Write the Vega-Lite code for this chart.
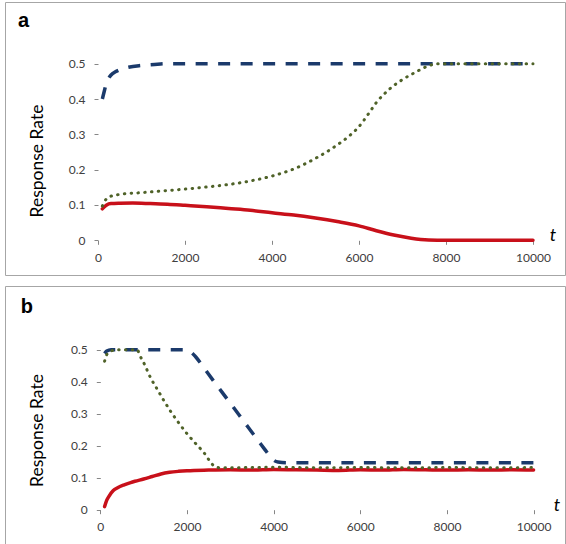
{
  "$schema": "https://vega.github.io/schema/vega-lite/v6.json",
  "background": "white",
  "padding": {"left": 4, "top": 1, "right": 1, "bottom": 1},
  "spacing": 9,
  "config": {
    "view": {"stroke": "#A6A6A6", "strokeWidth": 1},
    "axis": {"grid": false, "domain": false, "labelFont": "Lato", "labelFontSize": 12, "labelColor": "#404040", "tickColor": "#868686", "tickSize": 4, "tickWidth": 1, "title": null}
  },
  "datasets": {
    "labels": [
      {"panel": "a", "kind": "title", "text": "Response Rate", "x": -1379, "y": 0.2245},
      {"panel": "a", "kind": "t", "text": "t", "x": 10460, "y": -0.002},
      {"panel": "a", "kind": "tag", "text": "a", "x": -1713, "y": 0.604},
      {"panel": "b", "kind": "title", "text": "Response Rate", "x": -1438, "y": 0.2475},
      {"panel": "b", "kind": "t", "text": "t", "x": 10540, "y": -0.004},
      {"panel": "b", "kind": "tag", "text": "b", "x": -1692, "y": 0.615}
    ],
    "a": [
      {"t": 100, "rate": 0.40, "series": "blue"},
      {"t": 150, "rate": 0.425, "series": "blue"},
      {"t": 200, "rate": 0.448, "series": "blue"},
      {"t": 250, "rate": 0.46, "series": "blue"},
      {"t": 300, "rate": 0.468, "series": "blue"},
      {"t": 400, "rate": 0.477, "series": "blue"},
      {"t": 500, "rate": 0.483, "series": "blue"},
      {"t": 700, "rate": 0.49, "series": "blue"},
      {"t": 1000, "rate": 0.495, "series": "blue"},
      {"t": 1300, "rate": 0.498, "series": "blue"},
      {"t": 1600, "rate": 0.5, "series": "blue"},
      {"t": 10000, "rate": 0.5, "series": "blue"},
      {"t": 100, "rate": 0.097, "series": "green"},
      {"t": 150, "rate": 0.11, "series": "green"},
      {"t": 200, "rate": 0.118, "series": "green"},
      {"t": 300, "rate": 0.125, "series": "green"},
      {"t": 500, "rate": 0.13, "series": "green"},
      {"t": 1000, "rate": 0.135, "series": "green"},
      {"t": 1500, "rate": 0.14, "series": "green"},
      {"t": 2000, "rate": 0.145, "series": "green"},
      {"t": 2500, "rate": 0.151, "series": "green"},
      {"t": 3000, "rate": 0.158, "series": "green"},
      {"t": 3500, "rate": 0.168, "series": "green"},
      {"t": 4000, "rate": 0.182, "series": "green"},
      {"t": 4500, "rate": 0.202, "series": "green"},
      {"t": 5000, "rate": 0.232, "series": "green"},
      {"t": 5500, "rate": 0.27, "series": "green"},
      {"t": 5800, "rate": 0.298, "series": "green"},
      {"t": 6000, "rate": 0.322, "series": "green"},
      {"t": 6200, "rate": 0.355, "series": "green"},
      {"t": 6400, "rate": 0.39, "series": "green"},
      {"t": 6700, "rate": 0.428, "series": "green"},
      {"t": 7000, "rate": 0.455, "series": "green"},
      {"t": 7300, "rate": 0.476, "series": "green"},
      {"t": 7600, "rate": 0.494, "series": "green"},
      {"t": 7800, "rate": 0.5, "series": "green"},
      {"t": 10000, "rate": 0.5, "series": "green"},
      {"t": 100, "rate": 0.089, "series": "red"},
      {"t": 150, "rate": 0.095, "series": "red"},
      {"t": 200, "rate": 0.1, "series": "red"},
      {"t": 300, "rate": 0.104, "series": "red"},
      {"t": 500, "rate": 0.105, "series": "red"},
      {"t": 800, "rate": 0.1055, "series": "red"},
      {"t": 1200, "rate": 0.104, "series": "red"},
      {"t": 1600, "rate": 0.102, "series": "red"},
      {"t": 2000, "rate": 0.099, "series": "red"},
      {"t": 2500, "rate": 0.095, "series": "red"},
      {"t": 3000, "rate": 0.09, "series": "red"},
      {"t": 3500, "rate": 0.085, "series": "red"},
      {"t": 4000, "rate": 0.078, "series": "red"},
      {"t": 4500, "rate": 0.0715, "series": "red"},
      {"t": 5000, "rate": 0.063, "series": "red"},
      {"t": 5500, "rate": 0.053, "series": "red"},
      {"t": 6000, "rate": 0.041, "series": "red"},
      {"t": 6400, "rate": 0.027, "series": "red"},
      {"t": 6800, "rate": 0.015, "series": "red"},
      {"t": 7200, "rate": 0.006, "series": "red"},
      {"t": 7600, "rate": 0.001, "series": "red"},
      {"t": 8000, "rate": 0.0, "series": "red"},
      {"t": 10000, "rate": 0.0, "series": "red"}
    ],
    "b": [
      {"t": 100, "rate": 0.488, "series": "blue"},
      {"t": 150, "rate": 0.496, "series": "blue"},
      {"t": 250, "rate": 0.5, "series": "blue"},
      {"t": 1900, "rate": 0.5, "series": "blue"},
      {"t": 2000, "rate": 0.498, "series": "blue"},
      {"t": 2100, "rate": 0.492, "series": "blue"},
      {"t": 2200, "rate": 0.478, "series": "blue"},
      {"t": 2400, "rate": 0.442, "series": "blue"},
      {"t": 2600, "rate": 0.405, "series": "blue"},
      {"t": 2800, "rate": 0.369, "series": "blue"},
      {"t": 3000, "rate": 0.333, "series": "blue"},
      {"t": 3200, "rate": 0.297, "series": "blue"},
      {"t": 3400, "rate": 0.26, "series": "blue"},
      {"t": 3600, "rate": 0.224, "series": "blue"},
      {"t": 3800, "rate": 0.188, "series": "blue"},
      {"t": 3900, "rate": 0.17, "series": "blue"},
      {"t": 4000, "rate": 0.155, "series": "blue"},
      {"t": 4100, "rate": 0.149, "series": "blue"},
      {"t": 4300, "rate": 0.147, "series": "blue"},
      {"t": 10000, "rate": 0.147, "series": "blue"},
      {"t": 100, "rate": 0.464, "series": "green"},
      {"t": 150, "rate": 0.485, "series": "green"},
      {"t": 250, "rate": 0.496, "series": "green"},
      {"t": 400, "rate": 0.5, "series": "green"},
      {"t": 850, "rate": 0.5, "series": "green"},
      {"t": 920, "rate": 0.48, "series": "green"},
      {"t": 1000, "rate": 0.46, "series": "green"},
      {"t": 1170, "rate": 0.41, "series": "green"},
      {"t": 1300, "rate": 0.38, "series": "green"},
      {"t": 1477, "rate": 0.339, "series": "green"},
      {"t": 1650, "rate": 0.302, "series": "green"},
      {"t": 1786, "rate": 0.276, "series": "green"},
      {"t": 2000, "rate": 0.238, "series": "green"},
      {"t": 2200, "rate": 0.207, "series": "green"},
      {"t": 2400, "rate": 0.177, "series": "green"},
      {"t": 2550, "rate": 0.148, "series": "green"},
      {"t": 2650, "rate": 0.134, "series": "green"},
      {"t": 2800, "rate": 0.131, "series": "green"},
      {"t": 3500, "rate": 0.132, "series": "green"},
      {"t": 4000, "rate": 0.133, "series": "green"},
      {"t": 5000, "rate": 0.131, "series": "green"},
      {"t": 6000, "rate": 0.132, "series": "green"},
      {"t": 7000, "rate": 0.131, "series": "green"},
      {"t": 8000, "rate": 0.132, "series": "green"},
      {"t": 9000, "rate": 0.131, "series": "green"},
      {"t": 10000, "rate": 0.132, "series": "green"},
      {"t": 100, "rate": 0.01, "series": "red"},
      {"t": 150, "rate": 0.03, "series": "red"},
      {"t": 200, "rate": 0.042, "series": "red"},
      {"t": 300, "rate": 0.06, "series": "red"},
      {"t": 400, "rate": 0.069, "series": "red"},
      {"t": 550, "rate": 0.078, "series": "red"},
      {"t": 700, "rate": 0.085, "series": "red"},
      {"t": 800, "rate": 0.089, "series": "red"},
      {"t": 1000, "rate": 0.096, "series": "red"},
      {"t": 1200, "rate": 0.104, "series": "red"},
      {"t": 1400, "rate": 0.112, "series": "red"},
      {"t": 1600, "rate": 0.117, "series": "red"},
      {"t": 1800, "rate": 0.12, "series": "red"},
      {"t": 2000, "rate": 0.122, "series": "red"},
      {"t": 2500, "rate": 0.124, "series": "red"},
      {"t": 3000, "rate": 0.125, "series": "red"},
      {"t": 3500, "rate": 0.124, "series": "red"},
      {"t": 4000, "rate": 0.126, "series": "red"},
      {"t": 4500, "rate": 0.125, "series": "red"},
      {"t": 5000, "rate": 0.124, "series": "red"},
      {"t": 5500, "rate": 0.123, "series": "red"},
      {"t": 6000, "rate": 0.125, "series": "red"},
      {"t": 6500, "rate": 0.124, "series": "red"},
      {"t": 7000, "rate": 0.126, "series": "red"},
      {"t": 7500, "rate": 0.125, "series": "red"},
      {"t": 8000, "rate": 0.124, "series": "red"},
      {"t": 8500, "rate": 0.125, "series": "red"},
      {"t": 9000, "rate": 0.124, "series": "red"},
      {"t": 9500, "rate": 0.125, "series": "red"},
      {"t": 10000, "rate": 0.124, "series": "red"}
    ]
  },
  "vconcat": [
    {
      "width": 560,
      "height": 273,
      "layer": [
        {
          "mark": {"type": "rule", "color": "#868686", "strokeWidth": 1},
          "encoding": {
            "x": {"datum": 0, "type": "quantitative", "scale": {"domain": [-2138, 10736], "nice": false, "zero": false},
                  "axis": {"values": [0, 2000, 4000, 6000, 8000, 10000], "format": "d", "offset": -34.7, "labelPadding": 8}},
            "y": {"datum": 0, "type": "quantitative", "scale": {"domain": [-0.0982, 0.6747], "nice": false, "zero": false},
                  "axis": {"values": [0, 0.1, 0.2, 0.3, 0.4, 0.5], "format": "~g", "offset": -93, "labelPadding": 9}},
            "x2": {"datum": 10000}
          }
        },
        {
          "mark": {"type": "rule", "color": "#868686", "strokeWidth": 1},
          "encoding": {
            "x": {"datum": 0, "type": "quantitative"},
            "y": {"datum": 0, "type": "quantitative"},
            "y2": {"datum": 0.5}
          }
        },
        {
          "data": {"name": "a"},
          "transform": [{"filter": "datum.series === 'red'"}],
          "mark": {"type": "line", "color": "#C8101A", "strokeWidth": 3.5, "strokeJoin": "round", "strokeCap": "round", "interpolate": "monotone"},
          "encoding": {"x": {"field": "t", "type": "quantitative"}, "y": {"field": "rate", "type": "quantitative"}}
        },
        {
          "data": {"name": "a"},
          "transform": [{"filter": "datum.series === 'blue'"}],
          "mark": {"type": "line", "color": "#1B3A6B", "strokeWidth": 3.5, "strokeDash": [12, 10.5], "interpolate": "monotone"},
          "encoding": {"x": {"field": "t", "type": "quantitative"}, "y": {"field": "rate", "type": "quantitative"}}
        },
        {
          "data": {"name": "a"},
          "transform": [{"filter": "datum.series === 'green'"}],
          "mark": {"type": "line", "color": "#4F6228", "strokeWidth": 3, "strokeDash": [0.5, 6.3], "strokeCap": "round", "interpolate": "monotone"},
          "encoding": {"x": {"field": "t", "type": "quantitative"}, "y": {"field": "rate", "type": "quantitative"}}
        },
        {
          "data": {"name": "labels"},
          "transform": [{"filter": "datum.panel === 'a' && datum.kind === 'title'"}],
          "mark": {"type": "text", "angle": 270, "align": "center", "baseline": "middle", "font": "Lato", "fontSize": 17.5, "fill": "#000000"},
          "encoding": {"x": {"field": "x", "type": "quantitative"}, "y": {"field": "y", "type": "quantitative"}, "text": {"field": "text"}}
        },
        {
          "data": {"name": "labels"},
          "transform": [{"filter": "datum.panel === 'a' && datum.kind === 't'"}],
          "mark": {"type": "text", "align": "center", "baseline": "alphabetic", "font": "Lato", "fontStyle": "italic", "fontSize": 18, "fill": "#000000"},
          "encoding": {"x": {"field": "x", "type": "quantitative"}, "y": {"field": "y", "type": "quantitative"}, "text": {"field": "text"}}
        },
        {
          "data": {"name": "labels"},
          "transform": [{"filter": "datum.panel === 'a' && datum.kind === 'tag'"}],
          "mark": {"type": "text", "align": "center", "baseline": "alphabetic", "font": "Liberation Sans", "fontWeight": "bold", "fontSize": 20, "fill": "#000000"},
          "encoding": {"x": {"field": "x", "type": "quantitative"}, "y": {"field": "y", "type": "quantitative"}, "text": {"field": "text"}}
        }
      ]
    },
    {
      "width": 560,
      "height": 259,
      "layer": [
        {
          "mark": {"type": "rule", "color": "#868686", "strokeWidth": 1},
          "encoding": {
            "x": {"datum": 0, "type": "quantitative", "scale": {"domain": [-2199, 10725], "nice": false, "zero": false},
                  "axis": {"values": [0, 2000, 4000, 6000, 8000, 10000], "format": "d", "offset": -35.3, "labelPadding": 8}},
            "y": {"datum": 0, "type": "quantitative", "scale": {"domain": [-0.110, 0.699], "nice": false, "zero": false},
                  "axis": {"values": [0, 0.1, 0.2, 0.3, 0.4, 0.5], "format": "~g", "offset": -95.3, "labelPadding": 9}},
            "x2": {"datum": 10000}
          }
        },
        {
          "mark": {"type": "rule", "color": "#868686", "strokeWidth": 1},
          "encoding": {
            "x": {"datum": 0, "type": "quantitative"},
            "y": {"datum": 0, "type": "quantitative"},
            "y2": {"datum": 0.5}
          }
        },
        {
          "data": {"name": "b"},
          "transform": [{"filter": "datum.series === 'red'"}],
          "mark": {"type": "line", "color": "#C8101A", "strokeWidth": 3.5, "strokeJoin": "round", "strokeCap": "round", "interpolate": "monotone"},
          "encoding": {"x": {"field": "t", "type": "quantitative"}, "y": {"field": "rate", "type": "quantitative"}}
        },
        {
          "data": {"name": "b"},
          "transform": [{"filter": "datum.series === 'blue'"}],
          "mark": {"type": "line", "color": "#1B3A6B", "strokeWidth": 3.5, "strokeDash": [12, 10.5], "interpolate": "monotone"},
          "encoding": {"x": {"field": "t", "type": "quantitative"}, "y": {"field": "rate", "type": "quantitative"}}
        },
        {
          "data": {"name": "b"},
          "transform": [{"filter": "datum.series === 'green'"}],
          "mark": {"type": "line", "color": "#4F6228", "strokeWidth": 3, "strokeDash": [0.5, 6.3], "strokeCap": "round", "interpolate": "monotone"},
          "encoding": {"x": {"field": "t", "type": "quantitative"}, "y": {"field": "rate", "type": "quantitative"}}
        },
        {
          "data": {"name": "labels"},
          "transform": [{"filter": "datum.panel === 'b' && datum.kind === 'title'"}],
          "mark": {"type": "text", "angle": 270, "align": "center", "baseline": "middle", "font": "Lato", "fontSize": 17.5, "fill": "#000000"},
          "encoding": {"x": {"field": "x", "type": "quantitative"}, "y": {"field": "y", "type": "quantitative"}, "text": {"field": "text"}}
        },
        {
          "data": {"name": "labels"},
          "transform": [{"filter": "datum.panel === 'b' && datum.kind === 't'"}],
          "mark": {"type": "text", "align": "center", "baseline": "alphabetic", "font": "Lato", "fontStyle": "italic", "fontSize": 18, "fill": "#000000"},
          "encoding": {"x": {"field": "x", "type": "quantitative"}, "y": {"field": "y", "type": "quantitative"}, "text": {"field": "text"}}
        },
        {
          "data": {"name": "labels"},
          "transform": [{"filter": "datum.panel === 'b' && datum.kind === 'tag'"}],
          "mark": {"type": "text", "align": "center", "baseline": "alphabetic", "font": "Liberation Sans", "fontWeight": "bold", "fontSize": 20, "fill": "#000000"},
          "encoding": {"x": {"field": "x", "type": "quantitative"}, "y": {"field": "y", "type": "quantitative"}, "text": {"field": "text"}}
        }
      ]
    }
  ]
}
